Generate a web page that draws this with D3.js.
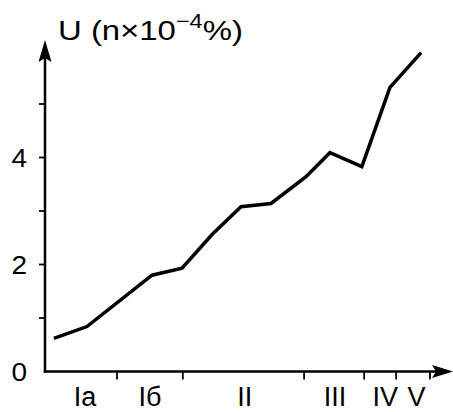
<!DOCTYPE html>
<html><head><meta charset="utf-8">
<script src="https://cdn.jsdelivr.net/npm/d3@7"></script>
<style>body{margin:0;background:#fff}svg{display:block}text{font-family:"Liberation Sans",Arial,sans-serif;fill:#000}</style>
</head><body>
<script>
// position along the sequence (0..100 = axis start .. last boundary), U values (n×10^-4 %)
const positions = [2.3, 10.9, 27.8, 35.6, 43.4, 50.9, 58.7, 67.8, 74.0, 82.3, 89.6, 97.7];
const values    = [0.62, 0.84, 1.80, 1.93, 2.56, 3.08, 3.14, 3.64, 4.09, 3.83, 5.31, 5.96];
const boundaries = [18.7, 35.8, 67.3, 82.9, 91.2, 100];
const zoneLabels = ["Ia", "Iб", "II", "III", "IV", "V"];
const zoneCenters = [10.4, 27.3, 51.9, 75.3, 88.4, 96.5];
const yTickLabels = [0, 2, 4];
const yTicks = [1, 2, 3, 4, 5];

const W = 453, H = 412;
const svg = d3.select("body").append("svg").attr("width", W).attr("height", H);
const x = d3.scaleLinear().domain([0, 100]).range([45, 430]);
const y = d3.scaleLinear().domain([0, 6]).range([371.5, 50.5]);
const x0 = x(0), y0 = y(0);

// axes lines
svg.append("line").attr("x1", x0).attr("x2", x0).attr("y1", y0 + 1.2).attr("y2", 50)
  .attr("stroke", "#000").attr("stroke-width", 2.5);
svg.append("line").attr("x1", x0 - 1.2).attr("x2", 440).attr("y1", y0).attr("y2", y0)
  .attr("stroke", "#000").attr("stroke-width", 2.5);
// arrowheads
svg.append("path").attr("d", `M${x0},40 L${x0 + 6.5},62 L${x0},58 L${x0 - 6.5},62 Z`).attr("fill", "#000");
svg.append("path").attr("d", `M453,${y0} L432,${y0 - 6.5} L436,${y0} L432,${y0 + 6.5} Z`).attr("fill", "#000");

// y ticks
svg.selectAll(".yt").data(yTicks).join("line")
  .attr("x1", x0 - 6).attr("x2", x0).attr("y1", d => y(d)).attr("y2", d => y(d))
  .attr("stroke", "#000").attr("stroke-width", 1.8);
svg.selectAll(".yl").data(yTickLabels).join("text")
  .attr("transform", d => `translate(27,${y(d)}) scale(1.12,1)`)
  .attr("dy", "0.36em").attr("text-anchor", "end")
  .attr("font-size", 25).text(d => d);

// x ticks
svg.selectAll(".xt").data(boundaries).join("line")
  .attr("x1", d => x(d)).attr("x2", d => x(d)).attr("y1", y0).attr("y2", y0 + 8)
  .attr("stroke", "#000").attr("stroke-width", 1.8);
svg.selectAll(".xl").data(zoneLabels).join("text")
  .attr("x", (d, i) => x(zoneCenters[i])).attr("y", 406).attr("text-anchor", "middle")
  .attr("font-size", 27).text(d => d);

// title
const tg = svg.append("g").attr("transform", "translate(58,39.5)");
const t = tg.append("text").attr("font-size", 28);
t.append("tspan").text("U (n×10");
t.append("tspan").attr("dy", -12).attr("font-size", 20).text("−4");
t.append("tspan").attr("dy", 12).text("%)");
const tw = t.node().getBBox().width;
t.attr("transform", `scale(${185 / tw},1)`);

// data line
const pts = positions.map((p, i) => [p, values[i]]);
svg.append("path").datum(pts)
  .attr("d", d3.line().x(d => x(d[0])).y(d => y(d[1])))
  .attr("fill", "none").attr("stroke", "#000").attr("stroke-width", 3.5)
  .attr("stroke-linejoin", "miter");
</script>
</body></html>
